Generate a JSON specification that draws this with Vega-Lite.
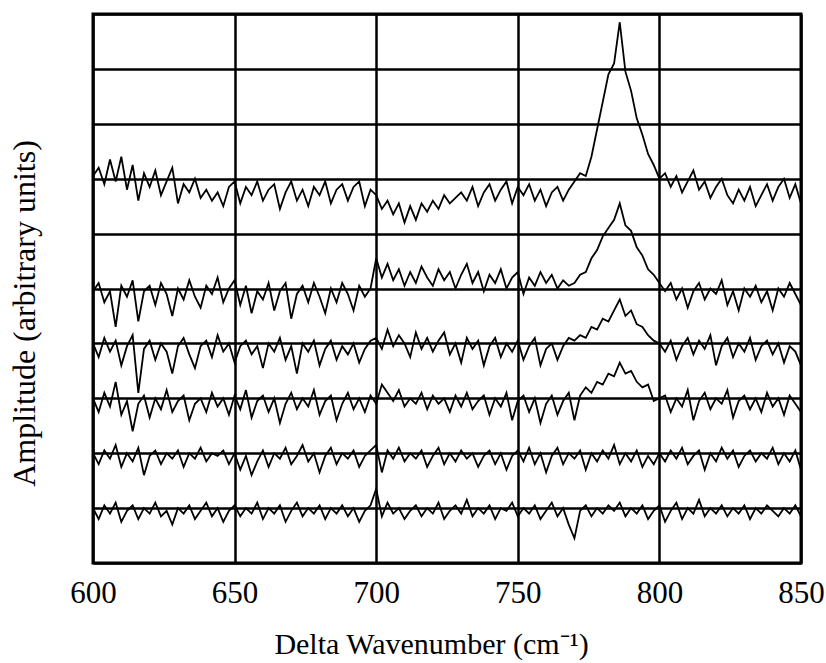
{
"$schema": "https://vega.github.io/schema/vega-lite/v6.json",
"width": 708, "height": 549,
"autosize": {"type": "none"},
"padding": {"left": 93, "top": 14, "right": 25, "bottom": 100},
"background": "white",
"config": {"view": {"stroke": "black", "strokeWidth": 3}, "font": "Liberation Serif"},
"datasets": {
"a": [{"x":600,"v":7.05},{"x":602,"v":7.2},{"x":604,"v":6.9},{"x":606,"v":7.35},{"x":608,"v":6.95},{"x":610,"v":7.4},{"x":612,"v":6.8},{"x":614,"v":7.25},{"x":616,"v":6.6},{"x":618,"v":7.1},{"x":620,"v":6.85},{"x":622,"v":7.15},{"x":624,"v":6.7},{"x":626,"v":6.95},{"x":628,"v":7.2},{"x":630,"v":6.55},{"x":632,"v":6.9},{"x":634,"v":6.75},{"x":636,"v":7.0},{"x":638,"v":6.65},{"x":640,"v":6.8},{"x":642,"v":6.6},{"x":644,"v":6.75},{"x":646,"v":6.5},{"x":648,"v":6.85},{"x":650,"v":6.95},{"x":652,"v":6.55},{"x":654,"v":6.85},{"x":656,"v":6.7},{"x":658,"v":6.95},{"x":660,"v":6.6},{"x":662,"v":6.8},{"x":664,"v":6.9},{"x":666,"v":6.45},{"x":668,"v":6.75},{"x":670,"v":6.95},{"x":672,"v":6.6},{"x":674,"v":6.8},{"x":676,"v":6.5},{"x":678,"v":6.85},{"x":680,"v":6.7},{"x":682,"v":6.95},{"x":684,"v":6.55},{"x":686,"v":6.8},{"x":688,"v":6.9},{"x":690,"v":6.6},{"x":692,"v":6.85},{"x":694,"v":6.95},{"x":696,"v":6.5},{"x":698,"v":6.8},{"x":700,"v":6.7},{"x":702,"v":6.45},{"x":704,"v":6.6},{"x":706,"v":6.35},{"x":708,"v":6.55},{"x":710,"v":6.2},{"x":712,"v":6.5},{"x":714,"v":6.25},{"x":716,"v":6.55},{"x":718,"v":6.4},{"x":720,"v":6.6},{"x":722,"v":6.45},{"x":724,"v":6.7},{"x":726,"v":6.55},{"x":728,"v":6.65},{"x":730,"v":6.75},{"x":732,"v":6.6},{"x":734,"v":6.85},{"x":736,"v":6.5},{"x":738,"v":6.75},{"x":740,"v":6.9},{"x":742,"v":6.6},{"x":744,"v":6.8},{"x":746,"v":6.95},{"x":748,"v":6.55},{"x":750,"v":6.85},{"x":752,"v":6.7},{"x":754,"v":6.9},{"x":756,"v":6.6},{"x":758,"v":6.8},{"x":760,"v":6.5},{"x":762,"v":6.75},{"x":764,"v":6.85},{"x":766,"v":6.6},{"x":768,"v":6.8},{"x":770,"v":6.95},{"x":772,"v":7.1},{"x":774,"v":7.05},{"x":776,"v":7.4},{"x":778,"v":7.9},{"x":780,"v":8.4},{"x":782,"v":8.9},{"x":784,"v":9.1},{"x":786,"v":9.85},{"x":788,"v":8.95},{"x":790,"v":8.6},{"x":792,"v":8.1},{"x":794,"v":7.8},{"x":796,"v":7.45},{"x":798,"v":7.25},{"x":800,"v":7.0},{"x":802,"v":7.1},{"x":804,"v":6.85},{"x":806,"v":7.05},{"x":808,"v":6.75},{"x":810,"v":6.95},{"x":812,"v":7.15},{"x":814,"v":6.8},{"x":816,"v":6.95},{"x":818,"v":6.65},{"x":820,"v":6.85},{"x":822,"v":7.0},{"x":824,"v":6.7},{"x":826,"v":6.55},{"x":828,"v":6.8},{"x":830,"v":6.6},{"x":832,"v":6.85},{"x":834,"v":6.5},{"x":836,"v":6.7},{"x":838,"v":6.9},{"x":840,"v":6.6},{"x":842,"v":6.85},{"x":844,"v":7.0},{"x":846,"v":6.65},{"x":848,"v":6.9},{"x":850,"v":6.55}],
"b": [{"x":600,"v":4.95},{"x":602,"v":5.1},{"x":604,"v":4.75},{"x":606,"v":4.95},{"x":608,"v":4.3},{"x":610,"v":5.05},{"x":612,"v":4.85},{"x":614,"v":5.15},{"x":616,"v":4.4},{"x":618,"v":4.95},{"x":620,"v":5.05},{"x":622,"v":4.7},{"x":624,"v":5.1},{"x":626,"v":4.9},{"x":628,"v":4.5},{"x":630,"v":5.0},{"x":632,"v":4.8},{"x":634,"v":5.15},{"x":636,"v":4.85},{"x":638,"v":4.65},{"x":640,"v":5.05},{"x":642,"v":4.9},{"x":644,"v":5.2},{"x":646,"v":4.75},{"x":648,"v":5.0},{"x":650,"v":5.15},{"x":652,"v":4.7},{"x":654,"v":5.05},{"x":656,"v":4.55},{"x":658,"v":4.95},{"x":660,"v":4.8},{"x":662,"v":5.1},{"x":664,"v":4.6},{"x":666,"v":4.95},{"x":668,"v":5.1},{"x":670,"v":4.45},{"x":672,"v":4.9},{"x":674,"v":5.05},{"x":676,"v":4.75},{"x":678,"v":5.1},{"x":680,"v":4.85},{"x":682,"v":4.55},{"x":684,"v":5.0},{"x":686,"v":4.75},{"x":688,"v":5.1},{"x":690,"v":4.9},{"x":692,"v":4.6},{"x":694,"v":5.05},{"x":696,"v":4.85},{"x":698,"v":5.0},{"x":700,"v":5.55},{"x":702,"v":5.2},{"x":704,"v":5.45},{"x":706,"v":5.15},{"x":708,"v":5.35},{"x":710,"v":5.05},{"x":712,"v":5.3},{"x":714,"v":5.1},{"x":716,"v":5.4},{"x":718,"v":5.2},{"x":720,"v":5.05},{"x":722,"v":5.35},{"x":724,"v":5.15},{"x":726,"v":5.3},{"x":728,"v":5.0},{"x":730,"v":5.25},{"x":732,"v":5.45},{"x":734,"v":5.1},{"x":736,"v":5.3},{"x":738,"v":4.95},{"x":740,"v":5.25},{"x":742,"v":5.1},{"x":744,"v":5.35},{"x":746,"v":5.0},{"x":748,"v":5.2},{"x":750,"v":5.3},{"x":752,"v":4.9},{"x":754,"v":5.2},{"x":756,"v":5.05},{"x":758,"v":5.3},{"x":760,"v":5.1},{"x":762,"v":5.25},{"x":764,"v":5.0},{"x":766,"v":5.15},{"x":768,"v":5.05},{"x":770,"v":5.1},{"x":772,"v":5.25},{"x":774,"v":5.3},{"x":776,"v":5.55},{"x":778,"v":5.7},{"x":780,"v":5.95},{"x":782,"v":6.1},{"x":784,"v":6.25},{"x":786,"v":6.55},{"x":788,"v":6.15},{"x":790,"v":6.05},{"x":792,"v":5.75},{"x":794,"v":5.6},{"x":796,"v":5.35},{"x":798,"v":5.25},{"x":800,"v":5.1},{"x":802,"v":4.95},{"x":804,"v":5.1},{"x":806,"v":4.8},{"x":808,"v":5.0},{"x":810,"v":4.65},{"x":812,"v":4.95},{"x":814,"v":5.1},{"x":816,"v":4.8},{"x":818,"v":5.0},{"x":820,"v":4.9},{"x":822,"v":5.15},{"x":824,"v":4.7},{"x":826,"v":4.95},{"x":828,"v":4.6},{"x":830,"v":5.0},{"x":832,"v":4.85},{"x":834,"v":5.05},{"x":836,"v":4.75},{"x":838,"v":4.95},{"x":840,"v":4.6},{"x":842,"v":5.0},{"x":844,"v":4.85},{"x":846,"v":5.1},{"x":848,"v":4.9},{"x":850,"v":4.7}],
"c": [{"x":600,"v":4.0},{"x":602,"v":3.75},{"x":604,"v":4.1},{"x":606,"v":3.85},{"x":608,"v":4.05},{"x":610,"v":3.6},{"x":612,"v":3.95},{"x":614,"v":4.15},{"x":616,"v":3.1},{"x":618,"v":3.9},{"x":620,"v":4.05},{"x":622,"v":3.7},{"x":624,"v":4.0},{"x":626,"v":3.85},{"x":628,"v":3.45},{"x":630,"v":3.95},{"x":632,"v":4.1},{"x":634,"v":3.8},{"x":636,"v":3.55},{"x":638,"v":3.95},{"x":640,"v":4.05},{"x":642,"v":3.75},{"x":644,"v":4.15},{"x":646,"v":3.85},{"x":648,"v":4.0},{"x":650,"v":3.65},{"x":652,"v":3.95},{"x":654,"v":4.05},{"x":656,"v":3.8},{"x":658,"v":3.95},{"x":660,"v":3.55},{"x":662,"v":4.0},{"x":664,"v":3.85},{"x":666,"v":4.1},{"x":668,"v":3.7},{"x":670,"v":3.95},{"x":672,"v":3.45},{"x":674,"v":4.0},{"x":676,"v":3.85},{"x":678,"v":4.05},{"x":680,"v":3.6},{"x":682,"v":3.9},{"x":684,"v":4.05},{"x":686,"v":3.7},{"x":688,"v":3.95},{"x":690,"v":3.8},{"x":692,"v":4.0},{"x":694,"v":3.65},{"x":696,"v":3.9},{"x":698,"v":4.05},{"x":700,"v":4.1},{"x":702,"v":3.9},{"x":704,"v":4.25},{"x":706,"v":3.95},{"x":708,"v":4.15},{"x":710,"v":4.0},{"x":712,"v":3.75},{"x":714,"v":4.2},{"x":716,"v":3.9},{"x":718,"v":4.1},{"x":720,"v":3.85},{"x":722,"v":4.05},{"x":724,"v":4.2},{"x":726,"v":3.8},{"x":728,"v":4.0},{"x":730,"v":3.65},{"x":732,"v":4.1},{"x":734,"v":3.9},{"x":736,"v":4.05},{"x":738,"v":3.6},{"x":740,"v":3.95},{"x":742,"v":4.1},{"x":744,"v":3.75},{"x":746,"v":4.0},{"x":748,"v":3.85},{"x":750,"v":4.05},{"x":752,"v":3.7},{"x":754,"v":3.95},{"x":756,"v":4.1},{"x":758,"v":3.6},{"x":760,"v":3.9},{"x":762,"v":4.0},{"x":764,"v":3.7},{"x":766,"v":3.95},{"x":768,"v":4.1},{"x":770,"v":4.05},{"x":772,"v":4.15},{"x":774,"v":4.1},{"x":776,"v":4.3},{"x":778,"v":4.25},{"x":780,"v":4.45},{"x":782,"v":4.4},{"x":784,"v":4.6},{"x":786,"v":4.8},{"x":788,"v":4.5},{"x":790,"v":4.6},{"x":792,"v":4.35},{"x":794,"v":4.3},{"x":796,"v":4.15},{"x":798,"v":4.05},{"x":800,"v":4.0},{"x":802,"v":3.85},{"x":804,"v":4.05},{"x":806,"v":3.7},{"x":808,"v":3.95},{"x":810,"v":4.1},{"x":812,"v":3.8},{"x":814,"v":4.05},{"x":816,"v":3.9},{"x":818,"v":4.15},{"x":820,"v":3.6},{"x":822,"v":3.95},{"x":824,"v":4.1},{"x":826,"v":3.75},{"x":828,"v":4.0},{"x":830,"v":3.85},{"x":832,"v":4.1},{"x":834,"v":3.7},{"x":836,"v":3.95},{"x":838,"v":4.05},{"x":840,"v":3.8},{"x":842,"v":4.0},{"x":844,"v":3.65},{"x":846,"v":3.95},{"x":848,"v":3.85},{"x":850,"v":3.6}],
"d": [{"x":600,"v":3.0},{"x":602,"v":2.75},{"x":604,"v":3.1},{"x":606,"v":2.85},{"x":608,"v":3.3},{"x":610,"v":2.7},{"x":612,"v":2.95},{"x":614,"v":2.4},{"x":616,"v":2.9},{"x":618,"v":3.05},{"x":620,"v":2.65},{"x":622,"v":3.0},{"x":624,"v":2.8},{"x":626,"v":3.15},{"x":628,"v":2.75},{"x":630,"v":2.95},{"x":632,"v":3.05},{"x":634,"v":2.6},{"x":636,"v":2.9},{"x":638,"v":3.0},{"x":640,"v":2.75},{"x":642,"v":3.1},{"x":644,"v":2.85},{"x":646,"v":3.0},{"x":648,"v":2.7},{"x":650,"v":3.05},{"x":652,"v":2.8},{"x":654,"v":3.15},{"x":656,"v":2.65},{"x":658,"v":2.95},{"x":660,"v":3.05},{"x":662,"v":2.75},{"x":664,"v":3.0},{"x":666,"v":2.55},{"x":668,"v":2.9},{"x":670,"v":3.1},{"x":672,"v":2.8},{"x":674,"v":3.0},{"x":676,"v":2.85},{"x":678,"v":3.15},{"x":680,"v":2.7},{"x":682,"v":2.95},{"x":684,"v":3.05},{"x":686,"v":2.6},{"x":688,"v":2.9},{"x":690,"v":3.1},{"x":692,"v":2.8},{"x":694,"v":3.0},{"x":696,"v":2.75},{"x":698,"v":3.05},{"x":700,"v":2.9},{"x":702,"v":3.25},{"x":704,"v":3.1},{"x":706,"v":2.95},{"x":708,"v":3.15},{"x":710,"v":2.85},{"x":712,"v":3.0},{"x":714,"v":2.9},{"x":716,"v":3.1},{"x":718,"v":2.8},{"x":720,"v":3.05},{"x":722,"v":2.9},{"x":724,"v":3.0},{"x":726,"v":2.75},{"x":728,"v":3.05},{"x":730,"v":2.85},{"x":732,"v":3.1},{"x":734,"v":2.8},{"x":736,"v":2.95},{"x":738,"v":3.05},{"x":740,"v":2.7},{"x":742,"v":3.0},{"x":744,"v":2.85},{"x":746,"v":3.1},{"x":748,"v":2.6},{"x":750,"v":2.95},{"x":752,"v":3.05},{"x":754,"v":2.75},{"x":756,"v":3.0},{"x":758,"v":2.55},{"x":760,"v":2.9},{"x":762,"v":3.05},{"x":764,"v":2.7},{"x":766,"v":2.95},{"x":768,"v":3.1},{"x":770,"v":2.6},{"x":772,"v":3.05},{"x":774,"v":3.2},{"x":776,"v":3.1},{"x":778,"v":3.3},{"x":780,"v":3.25},{"x":782,"v":3.45},{"x":784,"v":3.4},{"x":786,"v":3.65},{"x":788,"v":3.45},{"x":790,"v":3.5},{"x":792,"v":3.3},{"x":794,"v":3.2},{"x":796,"v":3.25},{"x":798,"v":2.95},{"x":800,"v":3.0},{"x":802,"v":3.05},{"x":804,"v":2.75},{"x":806,"v":3.0},{"x":808,"v":2.85},{"x":810,"v":3.15},{"x":812,"v":2.6},{"x":814,"v":2.95},{"x":816,"v":3.1},{"x":818,"v":2.8},{"x":820,"v":3.0},{"x":822,"v":2.9},{"x":824,"v":3.15},{"x":826,"v":2.65},{"x":828,"v":2.95},{"x":830,"v":3.05},{"x":832,"v":2.8},{"x":834,"v":3.0},{"x":836,"v":2.75},{"x":838,"v":3.1},{"x":840,"v":2.85},{"x":842,"v":3.0},{"x":844,"v":2.7},{"x":846,"v":3.05},{"x":848,"v":2.9},{"x":850,"v":2.75}],
"e": [{"x":600,"v":2.0},{"x":602,"v":1.8},{"x":604,"v":2.05},{"x":606,"v":1.9},{"x":608,"v":2.15},{"x":610,"v":1.75},{"x":612,"v":2.0},{"x":614,"v":1.85},{"x":616,"v":2.1},{"x":618,"v":1.6},{"x":620,"v":1.95},{"x":622,"v":2.05},{"x":624,"v":1.8},{"x":626,"v":2.0},{"x":628,"v":1.9},{"x":630,"v":2.05},{"x":632,"v":1.75},{"x":634,"v":2.0},{"x":636,"v":1.9},{"x":638,"v":2.1},{"x":640,"v":1.85},{"x":642,"v":2.0},{"x":644,"v":1.95},{"x":646,"v":2.05},{"x":648,"v":1.8},{"x":650,"v":2.0},{"x":652,"v":1.7},{"x":654,"v":1.95},{"x":656,"v":1.6},{"x":658,"v":1.85},{"x":660,"v":2.05},{"x":662,"v":1.75},{"x":664,"v":2.0},{"x":666,"v":1.9},{"x":668,"v":2.1},{"x":670,"v":1.8},{"x":672,"v":1.95},{"x":674,"v":2.15},{"x":676,"v":1.85},{"x":678,"v":2.0},{"x":680,"v":1.65},{"x":682,"v":1.95},{"x":684,"v":2.1},{"x":686,"v":1.8},{"x":688,"v":2.0},{"x":690,"v":1.9},{"x":692,"v":2.05},{"x":694,"v":1.75},{"x":696,"v":1.95},{"x":698,"v":2.05},{"x":700,"v":2.15},{"x":702,"v":1.65},{"x":704,"v":2.05},{"x":706,"v":1.9},{"x":708,"v":2.1},{"x":710,"v":1.85},{"x":712,"v":2.0},{"x":714,"v":1.9},{"x":716,"v":2.05},{"x":718,"v":1.75},{"x":720,"v":1.95},{"x":722,"v":2.1},{"x":724,"v":1.8},{"x":726,"v":2.0},{"x":728,"v":1.85},{"x":730,"v":2.05},{"x":732,"v":1.9},{"x":734,"v":2.0},{"x":736,"v":1.75},{"x":738,"v":1.95},{"x":740,"v":2.05},{"x":742,"v":1.8},{"x":744,"v":2.0},{"x":746,"v":1.7},{"x":748,"v":1.95},{"x":750,"v":2.05},{"x":752,"v":1.85},{"x":754,"v":2.1},{"x":756,"v":1.8},{"x":758,"v":2.0},{"x":760,"v":1.65},{"x":762,"v":1.95},{"x":764,"v":2.1},{"x":766,"v":1.8},{"x":768,"v":2.0},{"x":770,"v":1.9},{"x":772,"v":2.05},{"x":774,"v":1.7},{"x":776,"v":2.0},{"x":778,"v":1.85},{"x":780,"v":2.05},{"x":782,"v":1.9},{"x":784,"v":2.15},{"x":786,"v":1.8},{"x":788,"v":2.0},{"x":790,"v":1.85},{"x":792,"v":2.05},{"x":794,"v":1.75},{"x":796,"v":1.95},{"x":798,"v":1.8},{"x":800,"v":2.0},{"x":802,"v":1.85},{"x":804,"v":2.05},{"x":806,"v":1.9},{"x":808,"v":2.1},{"x":810,"v":1.8},{"x":812,"v":1.95},{"x":814,"v":2.05},{"x":816,"v":1.7},{"x":818,"v":2.0},{"x":820,"v":1.85},{"x":822,"v":2.1},{"x":824,"v":1.9},{"x":826,"v":2.05},{"x":828,"v":1.75},{"x":830,"v":1.95},{"x":832,"v":2.05},{"x":834,"v":1.85},{"x":836,"v":2.0},{"x":838,"v":1.9},{"x":840,"v":2.1},{"x":842,"v":1.8},{"x":844,"v":2.0},{"x":846,"v":1.85},{"x":848,"v":2.05},{"x":850,"v":1.7}],
"f": [{"x":600,"v":1.0},{"x":602,"v":0.8},{"x":604,"v":1.05},{"x":606,"v":0.9},{"x":608,"v":1.1},{"x":610,"v":0.75},{"x":612,"v":0.95},{"x":614,"v":1.05},{"x":616,"v":0.8},{"x":618,"v":1.0},{"x":620,"v":0.9},{"x":622,"v":1.1},{"x":624,"v":0.85},{"x":626,"v":0.95},{"x":628,"v":0.7},{"x":630,"v":1.0},{"x":632,"v":0.9},{"x":634,"v":1.05},{"x":636,"v":0.8},{"x":638,"v":0.95},{"x":640,"v":1.1},{"x":642,"v":0.85},{"x":644,"v":1.0},{"x":646,"v":0.75},{"x":648,"v":0.95},{"x":650,"v":1.05},{"x":652,"v":0.85},{"x":654,"v":1.0},{"x":656,"v":0.9},{"x":658,"v":1.1},{"x":660,"v":0.8},{"x":662,"v":1.0},{"x":664,"v":0.9},{"x":666,"v":1.05},{"x":668,"v":0.75},{"x":670,"v":0.95},{"x":672,"v":1.1},{"x":674,"v":0.85},{"x":676,"v":1.0},{"x":678,"v":0.9},{"x":680,"v":1.05},{"x":682,"v":0.8},{"x":684,"v":1.0},{"x":686,"v":0.9},{"x":688,"v":1.05},{"x":690,"v":0.85},{"x":692,"v":1.0},{"x":694,"v":0.75},{"x":696,"v":0.95},{"x":698,"v":1.05},{"x":700,"v":1.35},{"x":702,"v":0.85},{"x":704,"v":1.1},{"x":706,"v":0.9},{"x":708,"v":1.0},{"x":710,"v":0.8},{"x":712,"v":0.95},{"x":714,"v":1.05},{"x":716,"v":0.85},{"x":718,"v":1.0},{"x":720,"v":0.9},{"x":722,"v":1.1},{"x":724,"v":0.8},{"x":726,"v":0.95},{"x":728,"v":1.05},{"x":730,"v":0.9},{"x":732,"v":1.15},{"x":734,"v":0.85},{"x":736,"v":1.0},{"x":738,"v":0.9},{"x":740,"v":1.05},{"x":742,"v":0.8},{"x":744,"v":1.0},{"x":746,"v":0.95},{"x":748,"v":1.1},{"x":750,"v":0.85},{"x":752,"v":1.0},{"x":754,"v":0.9},{"x":756,"v":1.05},{"x":758,"v":0.8},{"x":760,"v":0.95},{"x":762,"v":1.1},{"x":764,"v":0.85},{"x":766,"v":1.0},{"x":768,"v":0.7},{"x":770,"v":0.45},{"x":772,"v":0.95},{"x":774,"v":1.05},{"x":776,"v":0.85},{"x":778,"v":1.0},{"x":780,"v":0.9},{"x":782,"v":1.05},{"x":784,"v":0.95},{"x":786,"v":1.1},{"x":788,"v":0.85},{"x":790,"v":1.0},{"x":792,"v":0.9},{"x":794,"v":1.05},{"x":796,"v":0.8},{"x":798,"v":0.95},{"x":800,"v":1.05},{"x":802,"v":0.75},{"x":804,"v":0.95},{"x":806,"v":1.1},{"x":808,"v":0.8},{"x":810,"v":1.0},{"x":812,"v":0.9},{"x":814,"v":1.15},{"x":816,"v":0.85},{"x":818,"v":1.0},{"x":820,"v":0.9},{"x":822,"v":1.05},{"x":824,"v":0.85},{"x":826,"v":1.0},{"x":828,"v":0.9},{"x":830,"v":1.05},{"x":832,"v":0.8},{"x":834,"v":1.0},{"x":836,"v":0.9},{"x":838,"v":1.05},{"x":840,"v":0.95},{"x":842,"v":0.85},{"x":844,"v":1.0},{"x":846,"v":0.9},{"x":848,"v":1.05},{"x":850,"v":0.85}]
},
"encoding": {
"x": {"field": "x", "type": "quantitative", "scale": {"domain": [600, 850], "nice": false, "zero": false},
"axis": {"values": [600, 650, 700, 750, 800, 850], "grid": true, "gridColor": "black", "gridWidth": 2.5, "gridOpacity": 1, "domain": false, "ticks": false, "labelFlush": false, "labelOverlap": false, "labelPadding": 15, "labelFont": "Liberation Serif", "labelFontSize": 31, "labelColor": "black", "title": "Delta Wavenumber (cm⁻¹)", "titleFont": "Liberation Serif", "titleFontSize": 30, "titleFontWeight": "normal", "titleColor": "black", "titleX": 338, "titleY": 90, "titleBaseline": "alphabetic", "titleAlign": "center"}},
"y": {"field": "v", "type": "quantitative", "scale": {"domain": [0, 10], "nice": false, "zero": false},
"axis": {"values": [0, 1, 2, 3, 4, 5, 6, 7, 8, 9, 10], "grid": true, "gridColor": "black", "gridWidth": 2.5, "gridOpacity": 1, "domain": false, "ticks": false, "labels": false, "title": "Amplitude (arbitrary units)", "titleFont": "Liberation Serif", "titleFontSize": 32, "titleFontWeight": "normal", "titleColor": "black", "titleX": -59, "titleY": 299, "titleAngle": -90, "titleBaseline": "alphabetic", "titleAlign": "center"}}
},
"layer": [
{"data": {"name": "a"}, "mark": {"type": "line", "color": "black", "strokeWidth": 1.8}},
{"data": {"name": "b"}, "mark": {"type": "line", "color": "black", "strokeWidth": 1.8}},
{"data": {"name": "c"}, "mark": {"type": "line", "color": "black", "strokeWidth": 1.8}},
{"data": {"name": "d"}, "mark": {"type": "line", "color": "black", "strokeWidth": 1.8}},
{"data": {"name": "e"}, "mark": {"type": "line", "color": "black", "strokeWidth": 1.8}},
{"data": {"name": "f"}, "mark": {"type": "line", "color": "black", "strokeWidth": 1.8}}
]
}
